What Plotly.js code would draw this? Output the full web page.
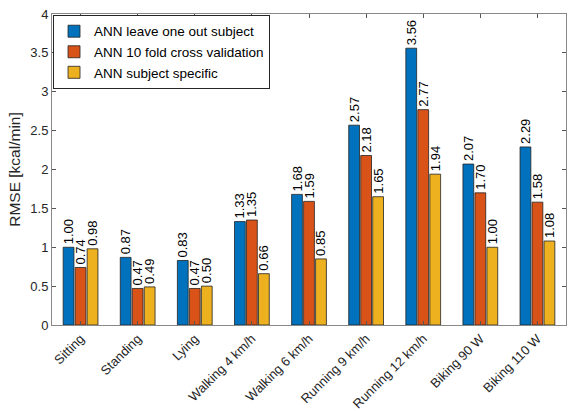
<!DOCTYPE html>
<html>
<head>
<meta charset="utf-8">
<script src="https://cdn.plot.ly/plotly-3.0.1.min.js"></script>
<style>html,body{margin:0;padding:0;background:#fff;}#chart{width:569px;height:411px;}</style>
</head>
<body>
<div id="chart"></div>
<script>
var categories = ["Sitting", "Standing", "Lying", "Walking 4 km/h", "Walking 6 km/h", "Running 9 km/h", "Running 12 km/h", "Biking 90 W", "Biking 110 W"];
var seriesNames = ["ANN leave one out subject", "ANN 10 fold cross validation", "ANN subject specific"];
var leaveOneOut = [1.00, 0.87, 0.83, 1.33, 1.68, 2.57, 3.56, 2.07, 2.29];
var tenFold = [0.74, 0.47, 0.47, 1.35, 1.59, 2.18, 2.77, 1.70, 1.58];
var subjectSpecific = [0.98, 0.49, 0.50, 0.66, 0.85, 1.65, 1.94, 1.00, 1.08];
var colors = ["#0072BD", "#D95319", "#EDB120"];
var yTicks = [0, 0.5, 1, 1.5, 2, 2.5, 3, 3.5, 4];
var yTickText = ["0", "0.5", "1", "1.5", "2", "2.5", "3", "3.5", "4"];

var allSeries = [leaveOneOut, tenFold, subjectSpecific];
var font = "Liberation Sans, Arial, Helvetica, sans-serif";
var traces = allSeries.map(function (vals, i) {
  return {
    type: "bar",
    name: seriesNames[i],
    x: categories,
    y: vals,
    marker: {color: colors[i], line: {color: "#222", width: 0.8}},
    text: vals.map(function (v) { return v.toFixed(2); }),
    textposition: "outside",
    textangle: -90,
    constraintext: "none",
    cliponaxis: false,
    textfont: {family: font, size: 13, color: "#000"},
    hoverinfo: "x+y"
  };
});

var layout = {
  width: 569,
  height: 411,
  margin: {l: 52, r: 3, t: 14, b: 86},
  paper_bgcolor: "#fff",
  plot_bgcolor: "#fff",
  barmode: "group",
  bargap: 0.37,
  bargroupgap: 0.1,
  font: {family: font, size: 13, color: "#262626"},
  showlegend: true,
  legend: {
    x: 0.002, y: 0.997, xanchor: "left", yanchor: "top",
    bgcolor: "#fff", bordercolor: "#262626", borderwidth: 1,
    font: {family: font, size: 13.5, color: "#000"},
    tracegroupgap: 0
  },
  xaxis: {
    type: "category",
    range: [-0.5, 8.5],
    tickangle: -45,
    ticks: "inside",
    ticklen: 4,
    tickcolor: "#555",
    showline: true,
    linecolor: "#888",
    linewidth: 1,
    mirror: "ticks",
    showgrid: false,
    zeroline: false,
    tickfont: {family: font, size: 13, color: "#262626"}
  },
  yaxis: {
    range: [0, 4],
    tickvals: yTicks,
    ticktext: yTickText,
    ticks: "inside",
    ticklen: 4,
    tickcolor: "#555",
    showline: true,
    linecolor: "#888",
    linewidth: 1,
    mirror: "ticks",
    showgrid: false,
    zeroline: false,
    tickfont: {family: font, size: 13, color: "#262626"},
    title: {text: "RMSE [kcal/min]", font: {family: font, size: 15.5, color: "#262626"}, standoff: 5}
  }
};

Plotly.newPlot("chart", traces, layout, {displayModeBar: false, staticPlot: true});
</script>
</body>
</html>
